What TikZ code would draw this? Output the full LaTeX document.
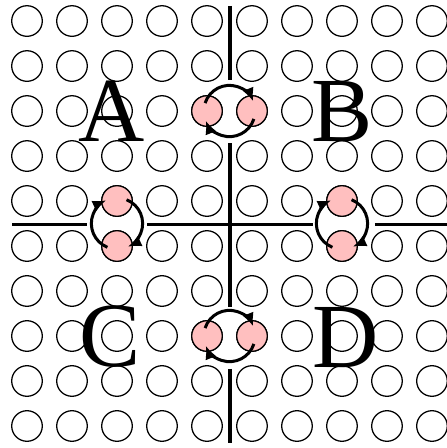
\documentclass[tikz,border=0pt]{standalone}
\usepackage{fontspec}
\setmainfont{Liberation Serif}
\usetikzlibrary{arrows.meta,positioning,calc}

\begin{document}
\begin{tikzpicture}[
  hole/.style={draw, circle, minimum size=0.68cm, inner sep=0pt, line width=0.8pt},
  spin/.style={hole, fill=red!25},
  axis/.style={line width=2pt},
  rot/.style={-{Latex[length=3mm,width=2.6mm]}, line width=1.9pt},
  lbl/.style={font=\fontsize{58}{58}\selectfont, inner sep=0pt}
]
\useasboundingbox (0,0) rectangle (9.933,-9.956);
\clip (0,0) rectangle (9.933,-9.956);

% lattice of sites
\foreach \i in {0,...,9}
  \foreach \j in {0,...,9}
    \node[hole] (c-\i-\j) at (0.6+\i,-0.467-\j) {};

% exchanged pairs
\foreach \i/\j in {4/2,5/2,4/7,5/7,2/4,2/5,7/4,7/5}
  \node[spin] (p-\i-\j) at (c-\i-\j.center) {};

% dividing lines
\draw[axis] (5.11,-0.133) -- (5.11,-1.778);
\draw[axis] (5.11,-3.178) -- (5.11,-6.822);
\draw[axis] (5.11,-8.2) -- (5.11,-9.844);
\draw[axis] (0.267,-4.98) -- (1.933,-4.98);
\draw[axis] (3.267,-4.98) -- (6.956,-4.98);
\draw[axis] (8.333,-4.98) -- (10.2,-4.98);

% rotation arrows
\coordinate (mT) at ($(p-4-2)!0.5!(p-5-2)$);
\coordinate (mB) at ($(p-4-7)!0.5!(p-5-7)$);
\coordinate (mL) at ($(p-2-4)!0.5!(p-2-5)$);
\coordinate (mR) at ($(p-7-4)!0.5!(p-7-5)$);
\foreach \m in {mT,mB} {
  \draw[rot] ($(\m)+(162:0.57)$) arc[start angle=162, end angle=22, radius=0.57];
  \draw[rot] ($(\m)+(-18:0.57)$) arc[start angle=-18, end angle=-158, radius=0.57];
}
\foreach \m in {mL,mR} {
  \draw[rot] ($(\m)+(68:0.57)$) arc[start angle=68, end angle=-65, radius=0.57];
  \draw[rot] ($(\m)+(248:0.57)$) arc[start angle=248, end angle=115, radius=0.57];
}

% region labels
\node[lbl] (A) at (2.49,-2.47) {A};
\node[lbl] (B) at (7.6,-2.49) {B};
\node[lbl] (C) at (2.44,-7.49) {C};
\node[lbl] (D) at (7.67,-7.51) {D};
\end{tikzpicture}
\end{document}
